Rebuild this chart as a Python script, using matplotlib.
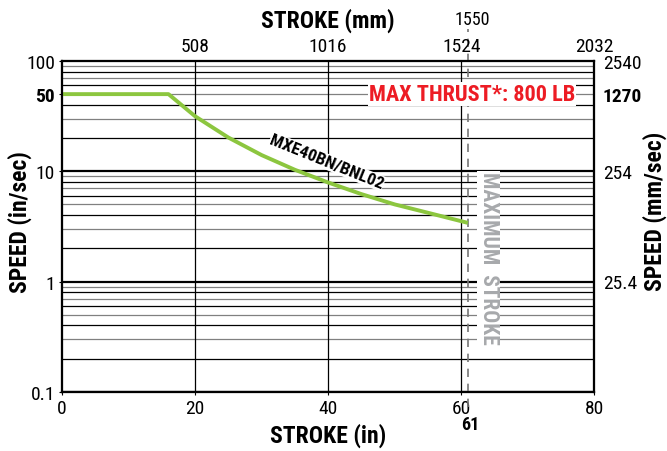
import numpy as np
import matplotlib.pyplot as plt

plt.rcParams['font.family'] = ['Roboto Condensed', 'Barlow Semi Condensed', 'DejaVu Sans']

# curve
stroke_in = [0, 16, 20, 25, 30, 35, 40, 45, 50, 55, 61]
speed_in = [50, 50, 31.5, 20.2, 14.0, 10.3, 7.9, 6.2, 5.0, 4.2, 3.4]

x_ticks = [0, 20, 40, 60, 80]
top_ticks = [20, 40, 60, 80]
top_labels = ['508', '1016', '1524', '2032']
left_ticks = [0.1, 1, 10, 50, 100]
left_labels = ['0.1', '1', '10', '50', '100']
right_ticks = [1, 10, 50, 100]
right_labels = ['25.4', '254', '1270', '2540']
max_stroke = 61

green = '#8cc63f'
red = '#ed1c24'
gray = '#a7a9ac'

fig = plt.figure(figsize=(6.67, 4.52), dpi=100)
ax = fig.add_axes([0.093, 0.131, 0.798, 0.732])
ax.set_yscale('log')
ax.set_xlim(0, 80)
ax.set_ylim(0.1, 100)

# grid
for dec in [0.1, 1, 10]:
    for k in range(1, 10):
        v = dec * k
        if k == 1:
            ax.axhline(v, color='black', lw=1.6, zorder=1)
        else:
            ax.axhline(v, color='black' if k % 2 == 0 else '#808080', lw=0.9, zorder=1)
for xv in [20, 40, 60]:
    ax.axvline(xv, color='black', lw=0.9, zorder=1)

ax.plot(stroke_in, speed_in, color=green, lw=2.8, zorder=4, solid_capstyle='butt')

ax.plot([max_stroke, max_stroke], [-0.045, 1.097], transform=ax.get_xaxis_transform(),
        color='#777777', lw=1.2, ls=(0, (5, 4)), clip_on=False, zorder=3)

ax.text(max_stroke + 0.6, 1.127, '1550', transform=ax.get_xaxis_transform(),
        ha='center', va='center', fontsize=13, zorder=6,
        bbox=dict(facecolor='white', edgecolor='none', pad=0.5))
ax.text(max_stroke + 0.3, -0.097, '61', transform=ax.get_xaxis_transform(),
        ha='center', va='center', fontsize=13, fontweight='bold')

ax.text(61.6, 50, 'MAX THRUST*: 800 LB', color=red, fontsize=16, fontweight='bold',
        ha='center', va='center', zorder=5,
        bbox=dict(facecolor='white', edgecolor='none', pad=0.5))
ax.text(39.8, 12.2, 'MXE40BN/BNL02', rotation=-22, fontsize=12.5, fontweight='bold',
        ha='center', va='center', zorder=5, rotation_mode='anchor',
        bbox=dict(facecolor='white', edgecolor='none', pad=0.3))
ax.text(64.1, 1.65, 'MAXIMUM  STROKE', rotation=-90, color=gray, fontsize=15.5,
        fontweight='bold', ha='center', va='center', zorder=5,
        bbox=dict(facecolor='white', edgecolor='none', pad=0.3))

ax.set_xticks(x_ticks)
ax.set_xticklabels([str(v) for v in x_ticks])
ax.set_yticks(left_ticks)
ax.set_yticklabels(left_labels)
ax.yaxis.set_minor_locator(plt.NullLocator())
ax.tick_params(axis='both', labelsize=14, length=2, width=0.8, pad=3)
ax.get_yticklabels()[3].set_fontweight('bold')
ax.set_xlabel('STROKE (in)', fontsize=17, fontweight='bold', labelpad=4)
ax.set_ylabel('SPEED (in/sec)', fontsize=17, fontweight='bold')
ax.yaxis.set_label_coords(-0.056, 0.517)

axr = ax.twinx()
axr.set_yscale('log')
axr.set_ylim(0.1, 100)
axr.set_yticks(right_ticks)
axr.set_yticklabels(right_labels)
axr.yaxis.set_minor_locator(plt.NullLocator())
axr.tick_params(axis='y', labelsize=14, length=0, pad=6)
axr.get_yticklabels()[2].set_fontweight('bold')
axr.set_ylabel('SPEED (mm/sec)', fontsize=17, fontweight='bold')
axr.yaxis.set_label_coords(1.090, 0.547)

axt = ax.twiny()
axt.set_xlim(0, 80)
axt.set_xticks(top_ticks)
axt.set_xticklabels(top_labels)
axt.tick_params(axis='x', labelsize=14, length=0, pad=4)
axt.set_xlabel('STROKE (mm)', fontsize=17, fontweight='bold', labelpad=8)

for a in (ax, axr, axt):
    for s in a.spines.values():
        s.set_linewidth(1.5)

fig.savefig('out.png', dpi=100)
